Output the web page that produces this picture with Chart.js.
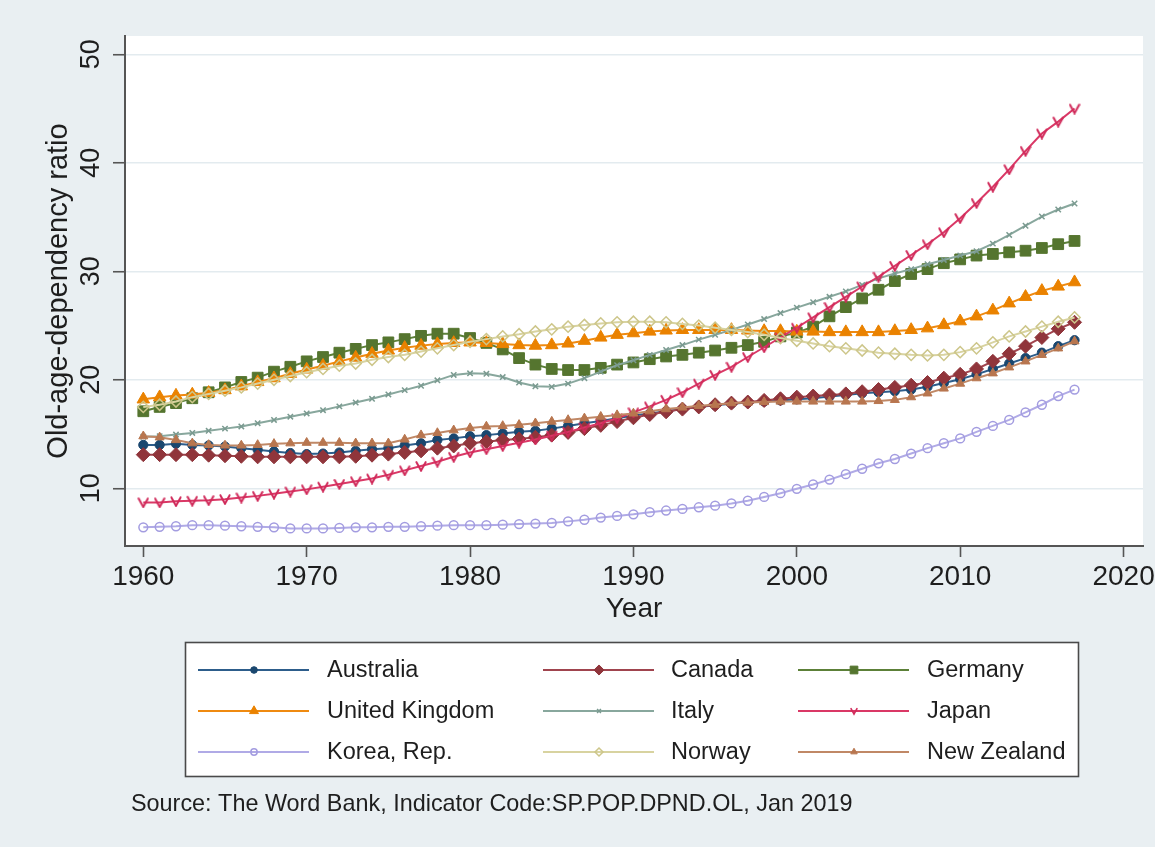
<!DOCTYPE html>
<html><head><meta charset="utf-8">
<script src="https://cdn.jsdelivr.net/npm/chart.js@4.4.1/dist/chart.umd.min.js"></script>
<style>html,body{margin:0;padding:0;background:#e9eff2;overflow:hidden}canvas{display:block}</style>
</head><body>
<canvas id="c" width="1155" height="847"></canvas>
<script>
// ---------------- data ----------------
const years = [1960,1961,1962,1963,1964,1965,1966,1967,1968,1969,
  1970,1971,1972,1973,1974,1975,1976,1977,1978,1979,
  1980,1981,1982,1983,1984,1985,1986,1987,1988,1989,
  1990,1991,1992,1993,1994,1995,1996,1997,1998,1999,
  2000,2001,2002,2003,2004,2005,2006,2007,2008,2009,
  2010,2011,2012,2013,2014,2015,2016,2017];

const australia = [14.0,14.0,14.1,14.0,13.95,13.85,13.7,13.55,13.4,13.25,
  13.15,13.2,13.3,13.45,13.6,13.7,13.95,14.15,14.45,14.6,
  14.8,14.9,15.05,15.2,15.3,15.5,15.75,16.0,16.2,16.45,
  16.7,16.9,17.1,17.3,17.5,17.65,17.8,17.9,18.0,18.1,
  18.2,18.3,18.45,18.6,18.75,18.85,18.95,19.1,19.35,19.7,
  20.05,20.5,21.0,21.5,22.0,22.5,23.1,23.65];

const canada = [13.1,13.1,13.1,13.1,13.05,13.0,12.95,12.9,12.9,12.9,
  12.9,12.9,12.9,12.95,13.05,13.15,13.3,13.45,13.7,13.9,
  14.15,14.3,14.45,14.55,14.7,14.9,15.15,15.5,15.8,16.15,
  16.5,16.8,17.05,17.3,17.5,17.7,17.85,17.95,18.1,18.25,
  18.4,18.5,18.6,18.7,18.9,19.1,19.3,19.5,19.75,20.15,
  20.5,21.0,21.7,22.4,23.1,23.9,24.7,25.3];

const germany = [17.1,17.5,17.85,18.3,18.85,19.3,19.8,20.2,20.75,21.2,
  21.7,22.1,22.5,22.85,23.2,23.45,23.75,24.05,24.25,24.25,
  23.85,23.4,22.8,22.0,21.4,21.0,20.9,20.9,21.1,21.4,
  21.6,21.9,22.15,22.3,22.5,22.7,22.95,23.2,23.5,24.0,
  24.35,24.9,25.85,26.7,27.5,28.3,29.1,29.75,30.2,30.75,
  31.1,31.45,31.6,31.75,31.9,32.15,32.5,32.8];

const unitedKingdom = [18.2,18.4,18.55,18.65,18.8,19.05,19.4,19.8,20.15,20.55,
  20.95,21.3,21.7,22.05,22.4,22.7,22.95,23.15,23.3,23.4,
  23.45,23.4,23.3,23.2,23.15,23.2,23.35,23.6,23.9,24.15,
  24.3,24.45,24.55,24.6,24.6,24.6,24.6,24.55,24.5,24.5,
  24.45,24.45,24.4,24.4,24.4,24.4,24.5,24.6,24.75,25.05,
  25.4,25.85,26.4,27.05,27.65,28.2,28.6,29.0];

const italy = [14.75,14.8,14.95,15.1,15.3,15.5,15.7,16.0,16.3,16.6,
  16.9,17.2,17.55,17.9,18.25,18.65,19.05,19.45,19.95,20.45,
  20.6,20.55,20.25,19.75,19.4,19.35,19.65,20.15,20.75,21.35,
  21.8,22.3,22.75,23.2,23.7,24.15,24.6,25.1,25.6,26.15,
  26.65,27.15,27.65,28.15,28.75,29.35,29.8,30.2,30.65,31.05,
  31.45,31.85,32.55,33.35,34.2,35.05,35.7,36.25];

const japan = [8.7,8.7,8.8,8.85,8.9,9.0,9.15,9.3,9.5,9.7,
  9.9,10.15,10.4,10.65,10.9,11.25,11.65,12.05,12.45,12.9,
  13.3,13.6,13.9,14.2,14.5,14.85,15.2,15.6,16.0,16.45,
  17.0,17.55,18.15,18.85,19.65,20.45,21.2,22.1,23.0,23.9,
  24.8,25.75,26.7,27.65,28.6,29.5,30.5,31.5,32.5,33.6,
  34.9,36.3,37.8,39.4,41.1,42.7,43.8,45.0];

const koreaRep = [6.4,6.45,6.5,6.6,6.6,6.55,6.5,6.45,6.4,6.3,
  6.3,6.3,6.35,6.4,6.4,6.45,6.45,6.5,6.55,6.6,
  6.6,6.6,6.65,6.7,6.75,6.8,6.95,7.1,7.3,7.45,
  7.6,7.8,7.95,8.1,8.25,8.4,8.6,8.85,9.2,9.55,
  9.95,10.35,10.8,11.3,11.8,12.3,12.7,13.2,13.7,14.15,
  14.6,15.2,15.75,16.3,17.0,17.7,18.5,19.1];

const norway = [17.5,17.7,18.0,18.4,18.7,19.0,19.3,19.65,20.0,20.35,
  20.7,21.0,21.3,21.5,21.85,22.1,22.3,22.6,22.9,23.2,
  23.5,23.75,24.0,24.2,24.45,24.65,24.9,25.05,25.2,25.3,
  25.35,25.35,25.3,25.15,25.0,24.8,24.6,24.4,24.15,23.85,
  23.6,23.35,23.1,22.9,22.7,22.5,22.4,22.3,22.25,22.3,
  22.55,22.9,23.45,24.0,24.45,24.9,25.35,25.75];

const newZealand = [14.8,14.7,14.45,14.15,14.0,13.95,13.95,14.0,14.1,14.15,
  14.2,14.2,14.2,14.15,14.15,14.15,14.5,14.9,15.1,15.35,
  15.55,15.7,15.75,15.85,16.0,16.15,16.3,16.45,16.6,16.75,
  16.9,17.1,17.3,17.45,17.6,17.7,17.85,17.9,17.95,18.0,
  18.0,18.0,18.0,18.0,18.0,18.05,18.15,18.4,18.75,19.2,
  19.65,20.15,20.6,21.15,21.7,22.3,22.9,23.55];

const seriesNames = ['Australia','Canada','Germany','United Kingdom','Italy','Japan','Korea, Rep.','Norway','New Zealand'];
const seriesValues = [australia, canada, germany, unitedKingdom, italy, japan, koreaRep, norway, newZealand];
const xTickValues = [1960,1970,1980,1990,2000,2010,2020];
const yTickValues = [10,20,30,40,50];
const xAxisTitle = 'Year';
const yAxisTitle = 'Old-age-dependency ratio';
const sourceNote = 'Source: The Word Bank, Indicator Code:SP.POP.DPND.OL, Jan 2019';

// ---------------- styles ----------------
const FONT = '"Liberation Sans", Arial, Helvetica, sans-serif';
const BG = '#e9eff2';
const TEXT = '#1e1e1e';

function makeV(color, size, lw) {
  const c = document.createElement('canvas');
  c.width = size; c.height = size;
  const g = c.getContext('2d');
  g.strokeStyle = color; g.lineWidth = lw; g.lineJoin = 'miter'; g.lineCap = 'round';
  g.beginPath();
  g.moveTo(size*0.12, size*0.18);
  g.lineTo(size*0.5, size*0.88);
  g.lineTo(size*0.88, size*0.18);
  g.stroke();
  return c;
}

const styles = [
  {line:'#2d5d8b', mfill:'#1a476f', mstroke:'#1a476f', ps:'circle',   r:4.6, bw:1},
  {line:'#a0444e', mfill:'#90353b', mstroke:'#90353b', ps:'rectRot',  r:7.0, bw:1},
  {line:'#5c8038', mfill:'#55752f', mstroke:'#55752f', ps:'rect',     r:7.6, bw:1},
  {line:'#ef8a10', mfill:'#ea8200', mstroke:'#ea8200', ps:'triangle', r:7.2, bw:1},
  {line:'#88a79d', mfill:'#7a9a90', mstroke:'#7a9a90', ps:'crossRot', r:3.8, bw:1.5},
  {line:'#da3866', mfill:'#d02a5a', mstroke:'#d02a5a', ps:'v',        r:5.5, bw:1},
  {line:'#b0aae6', mfill:'rgba(255,255,255,0)', mstroke:'#a39ce0', ps:'circle', r:4.4, bw:1.5},
  {line:'#d8d3a0', mfill:'rgba(255,255,255,0)', mstroke:'#cdc68a', ps:'rectRot', r:5.6, bw:1.5},
  {line:'#c08866', mfill:'#b8764f', mstroke:'#b8764f', ps:'triangle', r:5.2, bw:1}
];

const datasets = seriesNames.map((name, i) => {
  const st = styles[i];
  const pointStyle = st.ps === 'v' ? makeV(st.mstroke, 12, 2) : st.ps;
  return {
    label: name,
    data: years.map((yr, k) => ({x: yr, y: seriesValues[i][k]})),
    borderColor: st.line,
    borderWidth: 2,
    backgroundColor: st.mfill,
    pointStyle: pointStyle,
    pointRadius: st.r,
    pointHoverRadius: st.r,
    pointBackgroundColor: st.mfill,
    pointBorderColor: st.mstroke,
    pointBorderWidth: st.bw,
    tension: 0,
    fill: false,
    order: seriesNames.length - i
  };
});

// ---------------- plugins ----------------
const backgroundPlugin = {
  id: 'bg',
  beforeDraw(chart) {
    const {ctx, chartArea: a} = chart;
    ctx.save();
    ctx.fillStyle = BG;
    ctx.fillRect(0, 0, chart.width, chart.height);
    ctx.fillStyle = '#ffffff';
    ctx.fillRect(a.left, a.top, a.right - a.left, a.bottom - a.top);
    ctx.restore();
  }
};

function drawLegendMarker(ctx, st, x, y, s) {
  ctx.save();
  ctx.fillStyle = st.mfill; ctx.strokeStyle = st.mstroke; ctx.lineWidth = st.bw;
  const r = st.r * s;
  if (st.ps === 'v') {
    ctx.lineWidth = 1.6; ctx.lineCap = 'round';
    ctx.beginPath();
    ctx.moveTo(x - r*0.75, y - r*0.6); ctx.lineTo(x, y + r*0.8); ctx.lineTo(x + r*0.75, y - r*0.6);
    ctx.stroke(); ctx.restore(); return;
  }
  ctx.beginPath();
  if (st.ps === 'circle') ctx.arc(x, y, r, 0, Math.PI*2);
  else if (st.ps === 'rectRot') { ctx.moveTo(x, y-r); ctx.lineTo(x+r, y); ctx.lineTo(x, y+r); ctx.lineTo(x-r, y); ctx.closePath(); }
  else if (st.ps === 'rect') { const h = r*Math.SQRT1_2; ctx.rect(x-h, y-h, 2*h, 2*h); }
  else if (st.ps === 'triangle') { ctx.moveTo(x, y-r); ctx.lineTo(x+r*0.866, y+r*0.5); ctx.lineTo(x-r*0.866, y+r*0.5); ctx.closePath(); }
  else if (st.ps === 'crossRot') { const d = r*0.7071; ctx.moveTo(x-d, y-d); ctx.lineTo(x+d, y+d); ctx.moveTo(x+d, y-d); ctx.lineTo(x-d, y+d); }
  if (st.ps !== 'crossRot') ctx.fill();
  ctx.stroke();
  ctx.restore();
}

const annotationsPlugin = {
  id: 'extras',
  afterDraw(chart) {
    const {ctx} = chart;
    const ys = chart.scales.y;
    // rotated y tick labels
    ctx.save();
    ctx.fillStyle = TEXT;
    ctx.font = '27px ' + FONT;
    ctx.textAlign = 'center';
    ctx.textBaseline = 'middle';
    ys.ticks.forEach(t => {
      const py = ys.getPixelForValue(t.value);
      ctx.save();
      ctx.translate(92, py);
      ctx.rotate(-Math.PI/2);
      ctx.fillText(String(t.value), 0, 0);
      ctx.restore();
    });
    ctx.restore();

    // legend box
    ctx.save();
    ctx.fillStyle = '#ffffff';
    ctx.fillRect(185.5, 642.5, 893, 134);
    ctx.strokeStyle = '#4a4a4a';
    ctx.lineWidth = 1.6;
    ctx.strokeRect(185.5, 642.5, 893, 134);
    const lineX = [198, 543, 798];
    const textX = [327, 671, 927];
    const rowY = [670, 711, 752];
    ctx.font = '23.5px ' + FONT;
    ctx.textBaseline = 'middle';
    ctx.textAlign = 'left';
    chart.data.datasets.forEach((ds, i) => {
      const col = i % 3, row = Math.floor(i / 3);
      const st = styles[i];
      const y = rowY[row];
      ctx.strokeStyle = ds.borderColor;
      ctx.lineWidth = 2;
      ctx.beginPath();
      ctx.moveTo(lineX[col], y); ctx.lineTo(lineX[col] + 111, y);
      ctx.stroke();
      drawLegendMarker(ctx, st, lineX[col] + 56, y, 0.72);
      ctx.fillStyle = TEXT;
      ctx.fillText(ds.label, textX[col], y + 1);
    });
    ctx.restore();

    // source note
    ctx.save();
    ctx.fillStyle = TEXT;
    ctx.font = '23.4px ' + FONT;
    ctx.textBaseline = 'middle';
    ctx.textAlign = 'left';
    ctx.fillText(sourceNote, 131, 805);
    ctx.restore();
  }
};

// ---------------- chart ----------------
Chart.defaults.font.family = FONT;
Chart.defaults.color = TEXT;

new Chart(document.getElementById('c'), {
  type: 'line',
  data: {datasets},
  options: {
    responsive: false,
    animation: false,
    devicePixelRatio: 1,
    events: [],
    layout: {padding: {left: 0, top: 36, right: 12, bottom: 201}},
    plugins: {legend: {display: false}, tooltip: {enabled: false}},
    scales: {
      x: {
        type: 'linear',
        min: 1958.88,
        max: 2021.19,
        afterBuildTicks: s => { s.ticks = xTickValues.map(v => ({value: v})); },
        afterFit: s => { s.height = 100; s.paddingLeft = 0; s.paddingRight = 0; },
        ticks: {
          autoSkip: false, maxRotation: 0, minRotation: 0, padding: 3,
          color: TEXT, font: {size: 28, family: FONT},
          callback: v => String(v)
        },
        grid: {drawOnChartArea: false, drawTicks: true, tickLength: 11, tickColor: '#555', tickWidth: 1.6},
        border: {display: true, color: '#555', width: 2},
        title: {display: true, text: xAxisTitle, color: TEXT, font: {size: 28, family: FONT}, padding: {top: 4, bottom: 20}}
      },
      y: {
        type: 'linear',
        min: 4.68,
        max: 51.69,
        afterBuildTicks: s => { s.ticks = yTickValues.map(v => ({value: v})); },
        afterFit: s => { s.width = 125; s.paddingTop = 0; s.paddingBottom = 0; },
        ticks: {display: false},
        grid: {color: '#e3ebef', lineWidth: 1.5, drawTicks: true, tickLength: 12, tickColor: '#555', tickWidth: 1.6},
        border: {display: true, color: '#555', width: 2},
        title: {display: true, text: yAxisTitle, color: TEXT, font: {size: 29, family: FONT}, padding: {top: 42, bottom: 0}}
      }
    }
  },
  plugins: [backgroundPlugin, annotationsPlugin]
});
</script>
</body></html>
